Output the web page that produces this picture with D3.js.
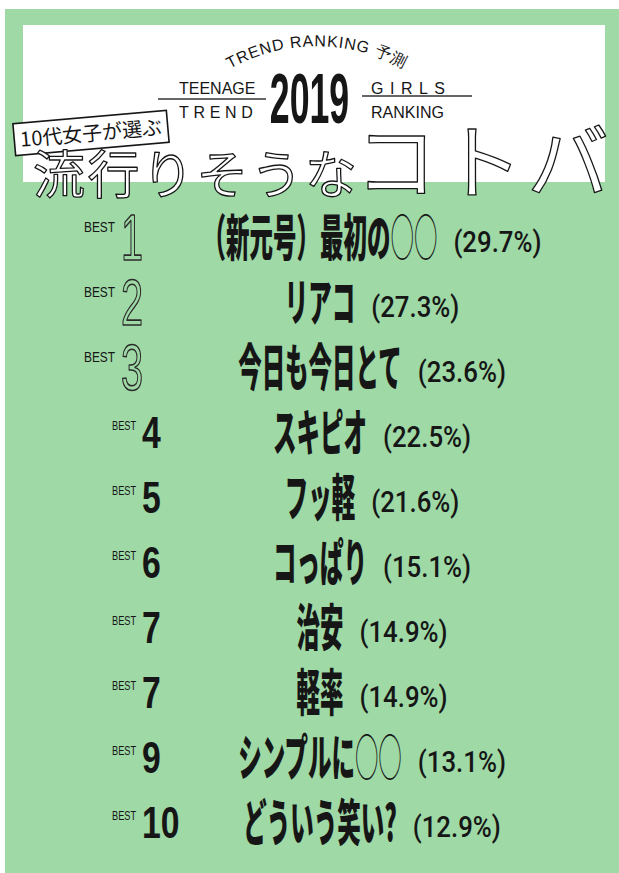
<!DOCTYPE html>
<html>
<head>
<meta charset="utf-8">
<script src="https://cdn.jsdelivr.net/npm/d3@7"></script>
<style>
  body { margin: 0; background: #fff; }
  svg { display: block; }
</style>
</head>
<body>
<svg id="chart"></svg>
<script>
// ranking data
const ranks = [1, 2, 3, 4, 5, 6, 7, 7, 9, 10];
const words = ["（新元号）最初の○○", "リアコ", "今日も今日とて", "スキピオ", "フッ軽",
               "コっぱり", "治安", "軽率", "シンプルに○○", "どういう笑い?"];
const shares = [29.7, 27.3, 23.6, 22.5, 21.6, 15.1, 14.9, 14.9, 13.1, 12.9];

// header texts
const arcTitle = "TREND RANKING 予測";
const yearLabel = "2019";
const leftWords = ["TEENAGE", "TREND"];
const rightWords = ["GIRLS", "RANKING"];
const badgeText = "10代女子が選ぶ";
const titleLead = "流行りそうな";
const titleTail = "コトバ";

const width = 619, height = 873;
const green = "#9ed9a6";
const ink = "#161616";
const jp = "'Noto Sans CJK JP', 'Noto Sans', sans-serif";
const latin = "'Liberation Sans', Arial, sans-serif";

const svg = d3.select("#chart").attr("width", width).attr("height", height);

// background panels
svg.append("rect").attr("x", 5).attr("y", 9).attr("width", width - 5).attr("height", height - 9)
  .attr("fill", green);
svg.append("rect").attr("x", 23).attr("y", 25).attr("width", 582).attr("height", 157)
  .attr("fill", "#fff");

// ---------- header ----------
const head = svg.append("g");

head.append("path").attr("id", "arc")
  .attr("d", "M 218 76 A 180 180 0 0 1 416 76")
  .attr("fill", "none");
head.append("text")
  .attr("font-family", latin).attr("font-size", 16).attr("fill", ink)
  .attr("letter-spacing", 0.8)
  .append("textPath").attr("href", "#arc").attr("startOffset", "50%")
  .attr("text-anchor", "middle").text(arcTitle);

head.append("text").attr("x", 179).attr("y", 94)
  .attr("font-family", latin).attr("font-size", 16).attr("fill", ink)
  .text(leftWords[0]);
head.append("text").attr("x", 179).attr("y", 118)
  .attr("font-family", latin).attr("font-size", 16).attr("fill", ink)
  .attr("letter-spacing", 4.7).text(leftWords[1]);
head.append("text").attr("x", 371).attr("y", 94)
  .attr("font-family", latin).attr("font-size", 16).attr("fill", ink)
  .attr("letter-spacing", 6.5).text(rightWords[0]);
head.append("text").attr("x", 371).attr("y", 118)
  .attr("font-family", latin).attr("font-size", 16).attr("fill", ink)
  .text(rightWords[1]);

head.append("line").attr("x1", 158).attr("x2", 266).attr("y1", 99).attr("y2", 99)
  .attr("stroke", "#333").attr("stroke-width", 1.5);
head.append("line").attr("x1", 362).attr("x2", 472).attr("y1", 96).attr("y2", 96)
  .attr("stroke", "#333").attr("stroke-width", 1.5);

head.append("text")
  .attr("transform", "translate(309.5,123) scale(0.51,1)")
  .attr("text-anchor", "middle")
  .attr("font-family", latin).attr("font-weight", "bold").attr("font-size", 70)
  .attr("fill", ink).text(yearLabel);

// badge
const badge = head.append("g").attr("transform", "translate(91,133) rotate(-5)");
badge.append("rect").attr("x", -77).attr("y", -16).attr("width", 154).attr("height", 32)
  .attr("fill", "#fff").attr("stroke", ink).attr("stroke-width", 1.6);
badge.append("text").attr("y", 7.5).attr("text-anchor", "middle")
  .attr("font-family", jp).attr("font-weight", 400).attr("font-size", 20)
  .attr("fill", ink).text(badgeText);

// hollow title lettering: glyph outline only, white inside
function hollow(g, txt, x, y, size, spacing) {
  g.append("text").attr("x", x).attr("y", y)
    .attr("font-family", jp).attr("font-weight", 400).attr("font-size", size)
    .attr("letter-spacing", spacing)
    .attr("fill", "#fff").attr("stroke", ink).attr("stroke-width", 1.3)
    .attr("stroke-linejoin", "round")
    .text(txt);
}
hollow(head, titleLead, 33, 194, 52, 2.4);
hollow(head, titleTail, 355, 192, 82, 4);

// ---------- ranking rows ----------
const y = d3.scalePoint().domain(d3.range(ranks.length)).range([237, 822]);
const centerX = 320;
const fmt = d => `(${d3.format(".1f")(d)}%)`;

const rows = svg.append("g").selectAll("g.row")
  .data(ranks.map((r, i) => ({ rank: r, word: words[i], share: shares[i], i })))
  .join("g").attr("class", "row")
  .attr("transform", d => `translate(0,${y(d.i)})`);

// BEST tag (a bit larger next to the podium numbers)
rows.append("text")
  .attr("transform", d => d.i < 3 ? "translate(84,-5) scale(0.85,1)" : "translate(112,-2) scale(0.77,1)")
  .attr("font-family", latin).attr("font-size", d => d.i < 3 ? 14 : 12).attr("fill", ink)
  .text("BEST");

// rank numbers: outlined for the podium, solid for the rest
rows.filter(d => d.i < 3).append("text")
  .attr("transform", "translate(121,23) scale(0.62,1)")
  .attr("font-family", latin).attr("font-size", 64)
  .attr("fill", green).attr("stroke", "#2b2b2b").attr("stroke-width", 1.6)
  .attr("stroke-linejoin", "round")
  .text(d => d.rank);
rows.filter(d => d.i >= 3).append("text")
  .attr("transform", "translate(142,16) scale(0.75,1)")
  .attr("font-family", latin).attr("font-weight", "bold").attr("font-size", 45)
  .attr("fill", ink).text(d => d.rank);

// words
const labelScale = 0.47;
const labels = rows.append("text")
  .attr("class", "word")
  .attr("transform", `translate(${centerX},19) scale(${labelScale},1)`)
  .attr("text-anchor", "middle")
  .attr("font-family", jp).attr("font-weight", 900).attr("font-size", 50)
  .attr("fill", ink);
labels.selectAll("tspan")
  .data(d => d.word.split(/(○+)/).filter(Boolean))
  .join("tspan")
  .attr("font-weight", s => s.startsWith("○") ? 300 : 900)
  .text(s => s);

// share in brackets, right after the word
rows.each(function(d) {
  const g = d3.select(this);
  const lw = g.select("text.word").node().getComputedTextLength() * labelScale;
  g.append("text")
    .attr("transform", `translate(${centerX + lw / 2 + 16},15) scale(0.86,1)`)
    .attr("font-family", "Roboto, " + latin).attr("font-weight", 500).attr("font-size", 30)
    .attr("fill", ink).text(fmt(d.share));
});
</script>
</body>
</html>
